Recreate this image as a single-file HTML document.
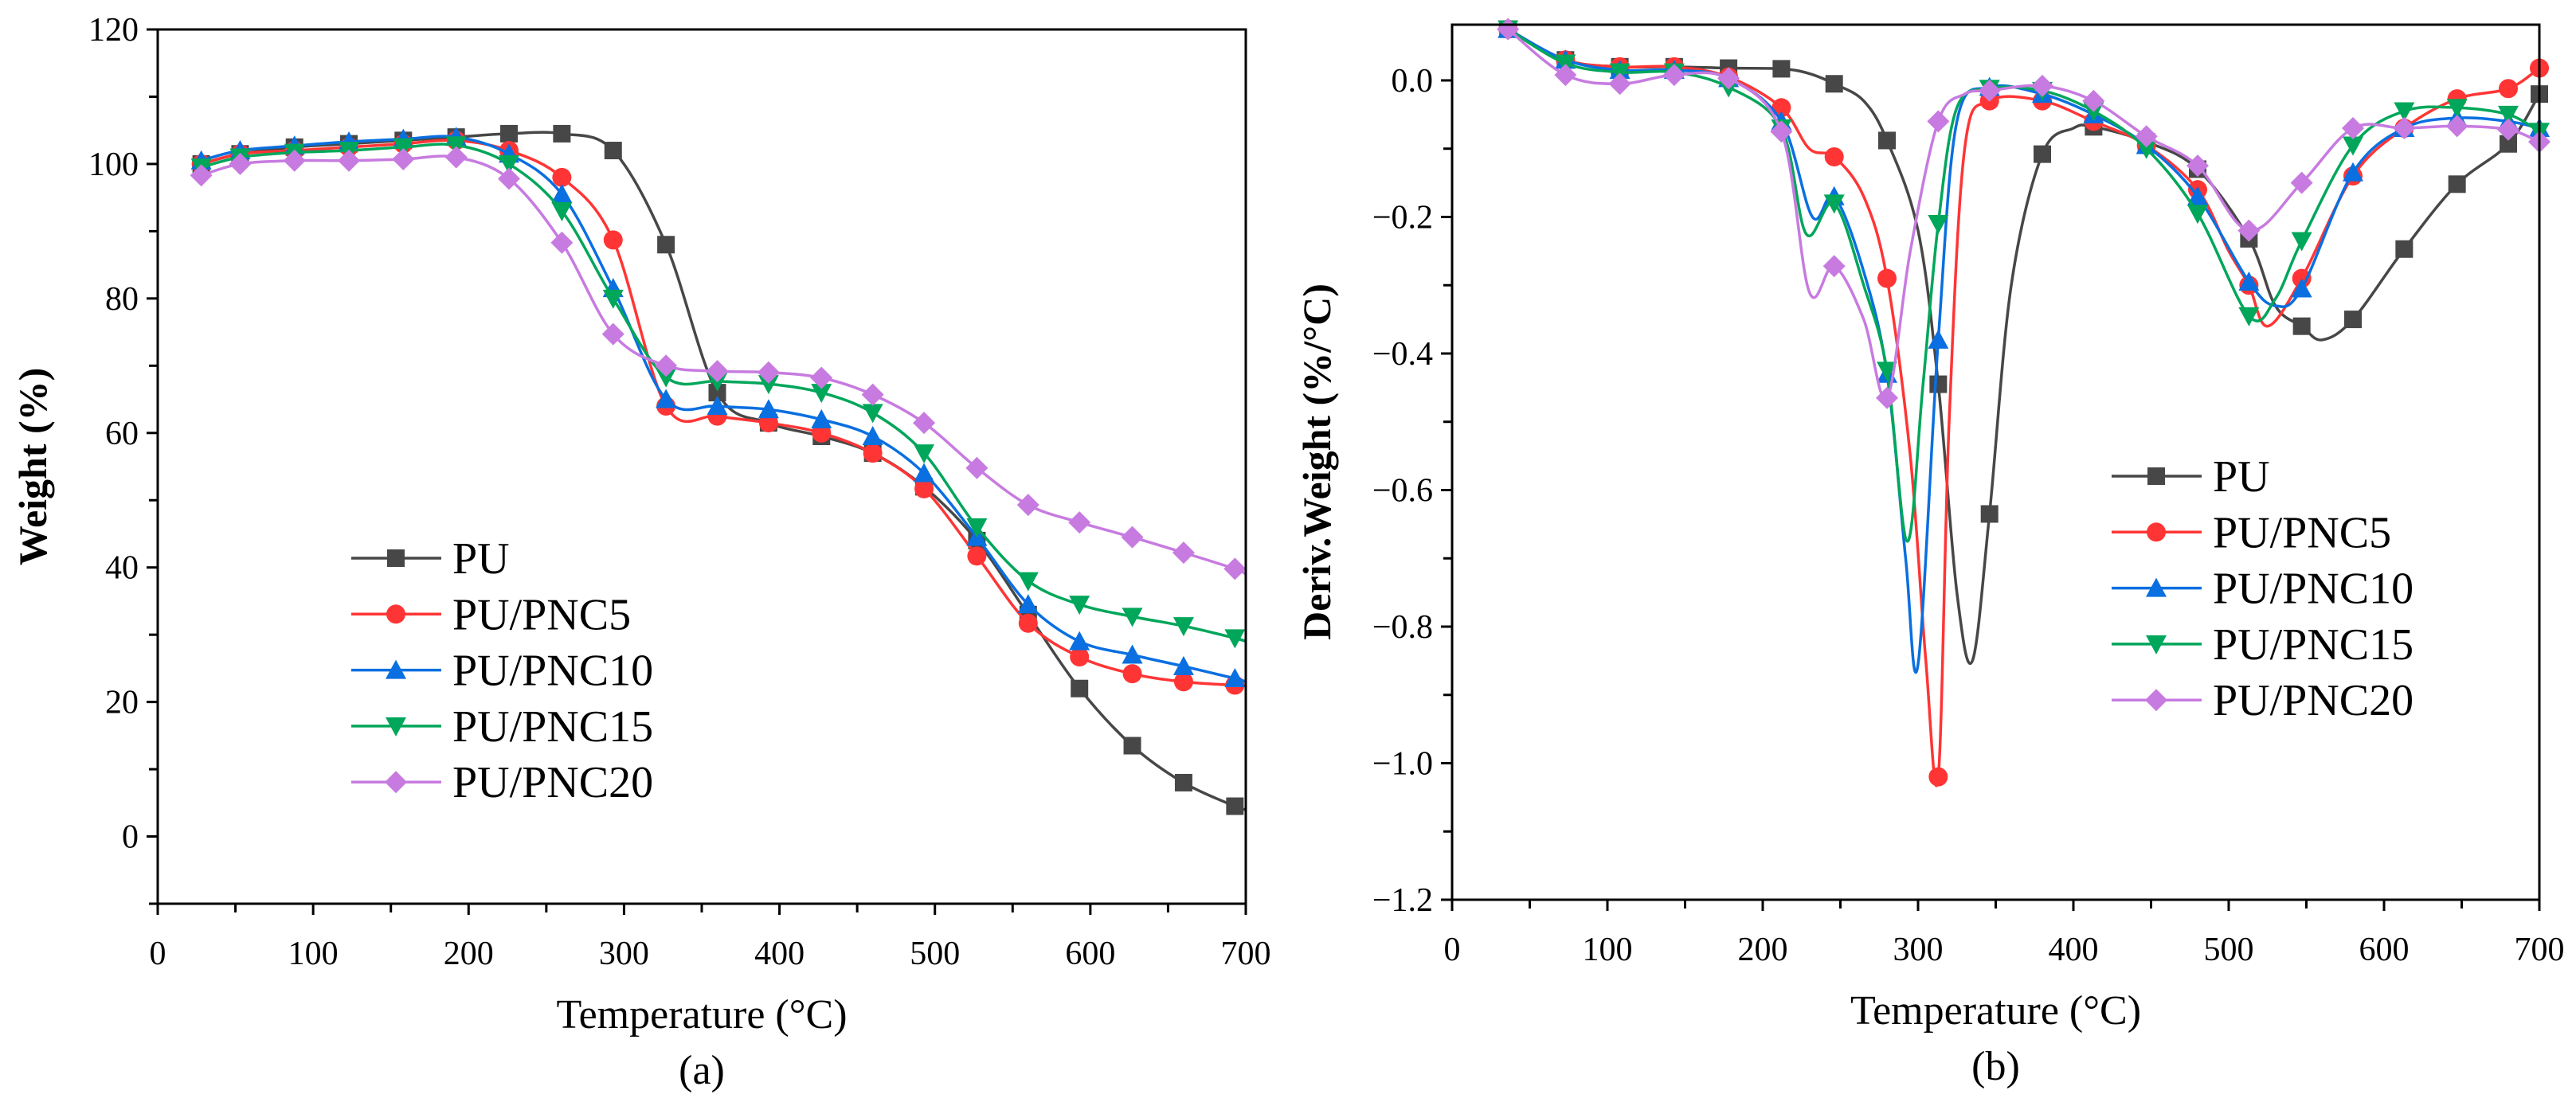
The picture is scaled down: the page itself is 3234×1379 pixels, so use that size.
<!DOCTYPE html>
<html><head><meta charset="utf-8">
<style>
html,body{margin:0;padding:0;background:#fff;overflow:hidden;}
svg{display:block;font-family:"Liberation Serif","DejaVu Serif",serif;}
</style></head>
<body>
<svg id="fig" width="3234" height="1379" viewBox="0 0 3234 1379" xmlns="http://www.w3.org/2000/svg"></svg>
<script>
// ---------- Panel (a) TGA data ----------
const tgaTemps = [28,53,88,123,158,192,226,260,293,327,360,393,427,460,493,527,560,593,627,660,693,700];
const tgaPU    = [100,101.5,102.5,103,103.5,104,104.5,104.5,102,88,66,61.5,59.5,57,52,44,33,22,13.5,8,4.5,4];
const tgaPNC5  = [100,101.5,102,102.5,103,103.5,102,98,88.7,64,62.5,61.5,60,57,51.7,41.7,31.7,26.7,24.2,23,22.5,22.5];
const tgaPNC10 = [100.5,102,102.7,103.3,103.7,104,101.5,95.5,81.5,65,64,63.5,62,59.5,54,44.5,34.5,29,27,25.3,23.5,23];
const tgaPNC15 = [99.5,101,101.7,102,102.5,102.8,100,93,80,68.3,67.7,67.3,66,63,57,46,38,34.5,32.7,31.3,29.5,29];
const tgaPNC20 = [98.3,100,100.5,100.5,100.7,101,97.8,88.3,74.7,70,69.2,69,68.2,65.7,61.5,54.8,49.3,46.7,44.5,42.2,39.8,39];
const tgaMarkerTemps = [28,53,88,123,158,192,226,260,293,327,360,393,427,460,493,527,560,593,627,660,693];
const tgaYTicks = [0,20,40,60,80,100,120];
const xTicks = [0,100,200,300,400,500,600,700];

// ---------- Panel (b) DTG data ----------
const dtgPUT = [36,73,108,143,178,212,230,246,265,280,300,313,325,335,346,360,380,400,413,447,480,513,530,547,560,580,613,647,680,700];
const dtgPU  = [0.075,0.03,0.02,0.02,0.018,0.017,0.01,-0.005,-0.03,-0.088,-0.22,-0.445,-0.75,-0.85,-0.635,-0.3,-0.108,-0.07,-0.068,-0.09,-0.13,-0.232,-0.33,-0.36,-0.38,-0.35,-0.247,-0.152,-0.093,-0.02];
const dtgPNC5T = [36,73,108,143,178,212,230,246,265,280,295,305,313,320,330,346,380,413,447,480,500,513,525,547,580,613,647,680,700];
const dtgPNC5  = [0.075,0.03,0.02,0.02,0.005,-0.04,-0.1,-0.112,-0.17,-0.29,-0.55,-0.85,-1.02,-0.5,-0.1,-0.03,-0.03,-0.06,-0.095,-0.16,-0.25,-0.3,-0.36,-0.29,-0.14,-0.07,-0.027,-0.012,0.018];
const dtgPNC10T = [36,73,108,143,178,212,232,246,265,280,292,300,313,325,346,380,413,447,480,513,530,547,580,613,647,680,700];
const dtgPNC10  = [0.075,0.03,0.015,0.015,0.003,-0.06,-0.2,-0.17,-0.28,-0.43,-0.7,-0.855,-0.38,-0.06,-0.01,-0.02,-0.05,-0.095,-0.17,-0.295,-0.33,-0.305,-0.135,-0.07,-0.055,-0.06,-0.07];
const dtgPNC15T = [36,73,108,143,178,212,228,246,265,280,293,303,313,325,346,380,413,447,480,513,530,547,580,613,647,680,700];
const dtgPNC15  = [0.075,0.025,0.012,0.012,-0.01,-0.07,-0.225,-0.18,-0.3,-0.425,-0.675,-0.45,-0.21,-0.04,-0.012,-0.015,-0.045,-0.1,-0.195,-0.345,-0.32,-0.235,-0.095,-0.045,-0.04,-0.05,-0.075];
const dtgPNC20T = [36,73,108,143,178,212,230,246,265,280,295,313,330,346,380,413,447,480,513,547,580,613,647,680,700];
const dtgPNC20  = [0.075,0.008,-0.005,0.008,0.003,-0.075,-0.31,-0.272,-0.35,-0.465,-0.25,-0.06,-0.02,-0.015,-0.008,-0.03,-0.082,-0.125,-0.22,-0.15,-0.07,-0.07,-0.067,-0.072,-0.09];
const dtgMarkerTemps = [36,73,108,143,178,212,246,280,313,346,380,413,447,480,513,547,580,613,647,680,700];
const dtgYTicks = [0,-0.2,-0.4,-0.6,-0.8,-1.0,-1.2];
const dtgYLabels = ["0.0","\u22120.2","\u22120.4","\u22120.6","\u22120.8","\u22121.0","\u22121.2"];

const seriesNames = ["PU","PU/PNC5","PU/PNC10","PU/PNC15","PU/PNC20"];
const colors = ["#474747","#ff3535","#0a6fe0","#00a65a","#c77be0"];
const shapes = ["square","circle","tri","tridown","diamond"];

const NS="http://www.w3.org/2000/svg";
const svg=document.getElementById('fig');
function mk(tag,attrs,parent){const e=document.createElementNS(NS,tag);for(const k in attrs)e.setAttribute(k,attrs[k]);(parent||svg).appendChild(e);return e;}

function smoothPath(pts){
  let d=`M${pts[0][0]},${pts[0][1]}`;
  for(let i=0;i<pts.length-1;i++){
    const p0=pts[Math.max(0,i-1)],p1=pts[i],p2=pts[i+1],p3=pts[Math.min(pts.length-1,i+2)];
    const t=1/6;
    const c1=[p1[0]+(p2[0]-p0[0])*t,p1[1]+(p2[1]-p0[1])*t];
    const c2=[p2[0]-(p3[0]-p1[0])*t,p2[1]-(p3[1]-p1[1])*t];
    d+=` C${c1[0]},${c1[1]} ${c2[0]},${c2[1]} ${p2[0]},${p2[1]}`;
  }
  return d;
}
function marker(g,shape,x,y,c,s){
  s=s||11;let e;
  if(shape==="square") e=mk('rect',{x:x-s,y:y-s,width:2*s,height:2*s,fill:c},g);
  else if(shape==="circle") e=mk('circle',{cx:x,cy:y,r:s+1,fill:c},g);
  else if(shape==="tri") e=mk('polygon',{points:`${x},${y-s-2} ${x-s-2},${y+s} ${x+s+2},${y+s}`,fill:c},g);
  else if(shape==="tridown") e=mk('polygon',{points:`${x},${y+s+2} ${x-s-2},${y-s} ${x+s+2},${y-s}`,fill:c},g);
  else e=mk('polygon',{points:`${x},${y-s-3} ${x+s+3},${y} ${x},${y+s+3} ${x-s-3},${y}`,fill:c},g);
  return e;
}

function panel(cfg){
  const g=mk('g',{});
  
  
  const X=v=>cfg.x0+(v-0)/(700)*(cfg.x1-cfg.x0);
  const Y=v=>cfg.yb+(v-cfg.ymin)/(cfg.ymax-cfg.ymin)*(cfg.yt-cfg.yb);
  cfg.series.forEach((s,i)=>{
    const sg=mk('g',{},g);
    
    
    const pts=s.t.map((t,j)=>[X(t),Y(s.v[j])]);
    mk('path',{d:smoothPath(pts),fill:'none',stroke:colors[i],'stroke-width':3.5,'stroke-linejoin':'round'},sg);
    s.t.forEach((t,j)=>{ if(cfg.markerTemps.includes(t)){ const m=marker(sg,shapes[i],X(t),Y(s.v[j]),colors[i]);
      
       }});
  });
  const fr=mk('rect',{x:cfg.x0,y:cfg.yt,width:cfg.x1-cfg.x0,height:cfg.yb-cfg.yt,fill:'none',stroke:'#000','stroke-width':3},g);
  
  
  const xa=mk('g',{},g);
  
  
  for(let v=0;v<=700;v+=50){const x=X(v);mk('line',{x1:x,x2:x,y1:cfg.yb,y2:cfg.yb+(v%100===0?14:11),stroke:'#000','stroke-width':3},xa);}
  xTicks.forEach(v=>{const t=mk('text',{x:X(v),y:cfg.yb+76,'font-size':42,'text-anchor':'middle'},xa);t.textContent=v;
    
    });
  const ya=mk('g',{},g);
  
  
  for(let k=0;;k++){const v=cfg.ymin+k*cfg.minor; if(v>cfg.ymax+1e-9)break; const y=Y(v);
    const isMaj=cfg.yTicks.some(t=>Math.abs(t-v)<1e-6);
    mk('line',{x1:cfg.x0,x2:cfg.x0-(isMaj?14:11),y1:y,y2:y,stroke:'#000','stroke-width':3},ya);}
  cfg.yTicks.forEach((v,i)=>{const t=mk('text',{x:cfg.x0-24,y:Y(v)+14,'font-size':42,'text-anchor':'end'},ya);t.textContent=cfg.yLabels[i];
    
    });
  const xt=mk('text',{x:(cfg.x0+cfg.x1)/2,y:cfg.yb+156,'font-size':52,'text-anchor':'middle'},g);xt.textContent='Temperature (\u00B0C)';
  
  
  const yt=mk('text',{x:0,y:0,'font-size':50,'font-weight':'bold','text-anchor':'middle',transform:`translate(${cfg.ytx},${cfg.yty}) rotate(-90)`},g);yt.textContent=cfg.ytitle;
  
  
  const cap=mk('text',{x:(cfg.x0+cfg.x1)/2,y:cfg.yb+226,'font-size':52,'text-anchor':'middle'},g);cap.textContent=cfg.caption;
  
  
  const lg=mk('g',{},g);
  
  
  seriesNames.forEach((n,i)=>{const y=cfg.ly+i*70.3;
    const e=mk('g',{},lg);
    
    
    mk('line',{x1:cfg.lx,x2:cfg.lx+113,y1:y,y2:y,stroke:colors[i],'stroke-width':3.5},e);
    marker(e,shapes[i],cfg.lx+56,y,colors[i]);
    const t=mk('text',{x:cfg.lx+127,y:y+19,'font-size':56},e);t.textContent=n;});
}

panel({name:'tga-chart',x0:198,x1:1564,yt:37,yb:1135,ymin:-10,ymax:120,minor:10,
  yTicks:tgaYTicks,yLabels:tgaYTicks.map(String),markerTemps:tgaMarkerTemps,
  series:[{t:tgaTemps,v:tgaPU},{t:tgaTemps,v:tgaPNC5},{t:tgaTemps,v:tgaPNC10},{t:tgaTemps,v:tgaPNC15},{t:tgaTemps,v:tgaPNC20}],
  ytitle:'Weight (%)',ytx:58,yty:586,caption:'(a)',lx:441,ly:701});
panel({name:'dtg-chart',x0:1823,x1:3188,yt:31,yb:1130,ymin:-1.2,ymax:0.0816,minor:0.1,
  yTicks:dtgYTicks,yLabels:dtgYLabels,markerTemps:dtgMarkerTemps,
  series:[{t:dtgPUT,v:dtgPU},{t:dtgPNC5T,v:dtgPNC5},{t:dtgPNC10T,v:dtgPNC10},{t:dtgPNC15T,v:dtgPNC15},{t:dtgPNC20T,v:dtgPNC20}],
  ytitle:'Deriv.Weight (%/\u00B0C)',ytx:1670,yty:580,caption:'(b)',lx:2651,ly:598});
</script>
</body></html>
